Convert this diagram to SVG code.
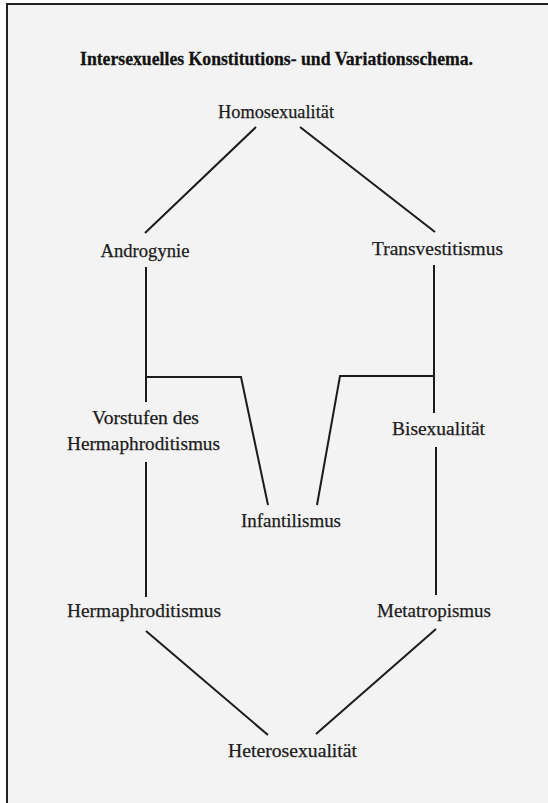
<svg xmlns="http://www.w3.org/2000/svg" width="548" height="803" viewBox="0 0 548 803">
<style>
.lbl{font-family:"Liberation Serif","DejaVu Serif",serif;font-size:18.5px;fill:#1b1b1b;stroke:#1b1b1b;stroke-width:0.25;text-anchor:middle}
.title{font-family:"Liberation Serif","DejaVu Serif",serif;font-size:19px;font-weight:bold;fill:#111;stroke:#111;stroke-width:0.3;text-anchor:middle}
.ln{stroke:#1b1b1b;stroke-width:2;fill:none;stroke-linecap:butt;stroke-linejoin:miter}
</style>
<rect x="0" y="0" width="548" height="803" fill="#ffffff"/>
<rect x="7" y="4" width="541" height="799" fill="#f3f3f3"/>
<path d="M7,803 V4 H548" stroke="#222" stroke-width="2" fill="none"/>
<text class="title" x="276.5" y="65" textLength="393" lengthAdjust="spacingAndGlyphs">Intersexuelles Konstitutions- und Variationsschema.</text>
<g id="connectors">
<line class="ln" x1="256" y1="127" x2="145" y2="233"/>
<line class="ln" x1="300" y1="127" x2="435" y2="232"/>
<line class="ln" x1="146" y1="267" x2="146" y2="402"/>
<polyline class="ln" points="146,377 241,377 268,505"/>
<line class="ln" x1="434" y1="265" x2="434" y2="413"/>
<polyline class="ln" points="434,376 340,376 317,505"/>
<line class="ln" x1="146" y1="462" x2="146" y2="597"/>
<line class="ln" x1="436" y1="447" x2="436" y2="595"/>
<line class="ln" x1="146" y1="631" x2="268" y2="735"/>
<line class="ln" x1="436" y1="629" x2="316" y2="734"/>
</g>
<g id="homosexualitaet"><text class="lbl" x="276" y="118" textLength="116" lengthAdjust="spacingAndGlyphs">Homosexualität</text></g>
<g id="androgynie"><text class="lbl" x="145" y="257" textLength="89" lengthAdjust="spacingAndGlyphs">Androgynie</text></g>
<g id="transvestitismus"><text class="lbl" x="437.5" y="255" textLength="131" lengthAdjust="spacingAndGlyphs">Transvestitismus</text></g>
<g id="vorstufen"><text class="lbl" x="145.5" y="424" textLength="107" lengthAdjust="spacingAndGlyphs">Vorstufen des</text><text class="lbl" x="143.5" y="450" textLength="153" lengthAdjust="spacingAndGlyphs">Hermaphroditismus</text></g>
<g id="bisexualitaet"><text class="lbl" x="438.5" y="435" textLength="93" lengthAdjust="spacingAndGlyphs">Bisexualität</text></g>
<g id="infantilismus"><text class="lbl" x="291" y="527" textLength="100" lengthAdjust="spacingAndGlyphs">Infantilismus</text></g>
<g id="hermaphroditismus"><text class="lbl" x="144" y="617" textLength="154" lengthAdjust="spacingAndGlyphs">Hermaphroditismus</text></g>
<g id="metatropismus"><text class="lbl" x="434" y="617" textLength="114" lengthAdjust="spacingAndGlyphs">Metatropismus</text></g>
<g id="heterosexualitaet"><text class="lbl" x="292.5" y="757" textLength="129" lengthAdjust="spacingAndGlyphs">Heterosexualität</text></g>
</svg>
